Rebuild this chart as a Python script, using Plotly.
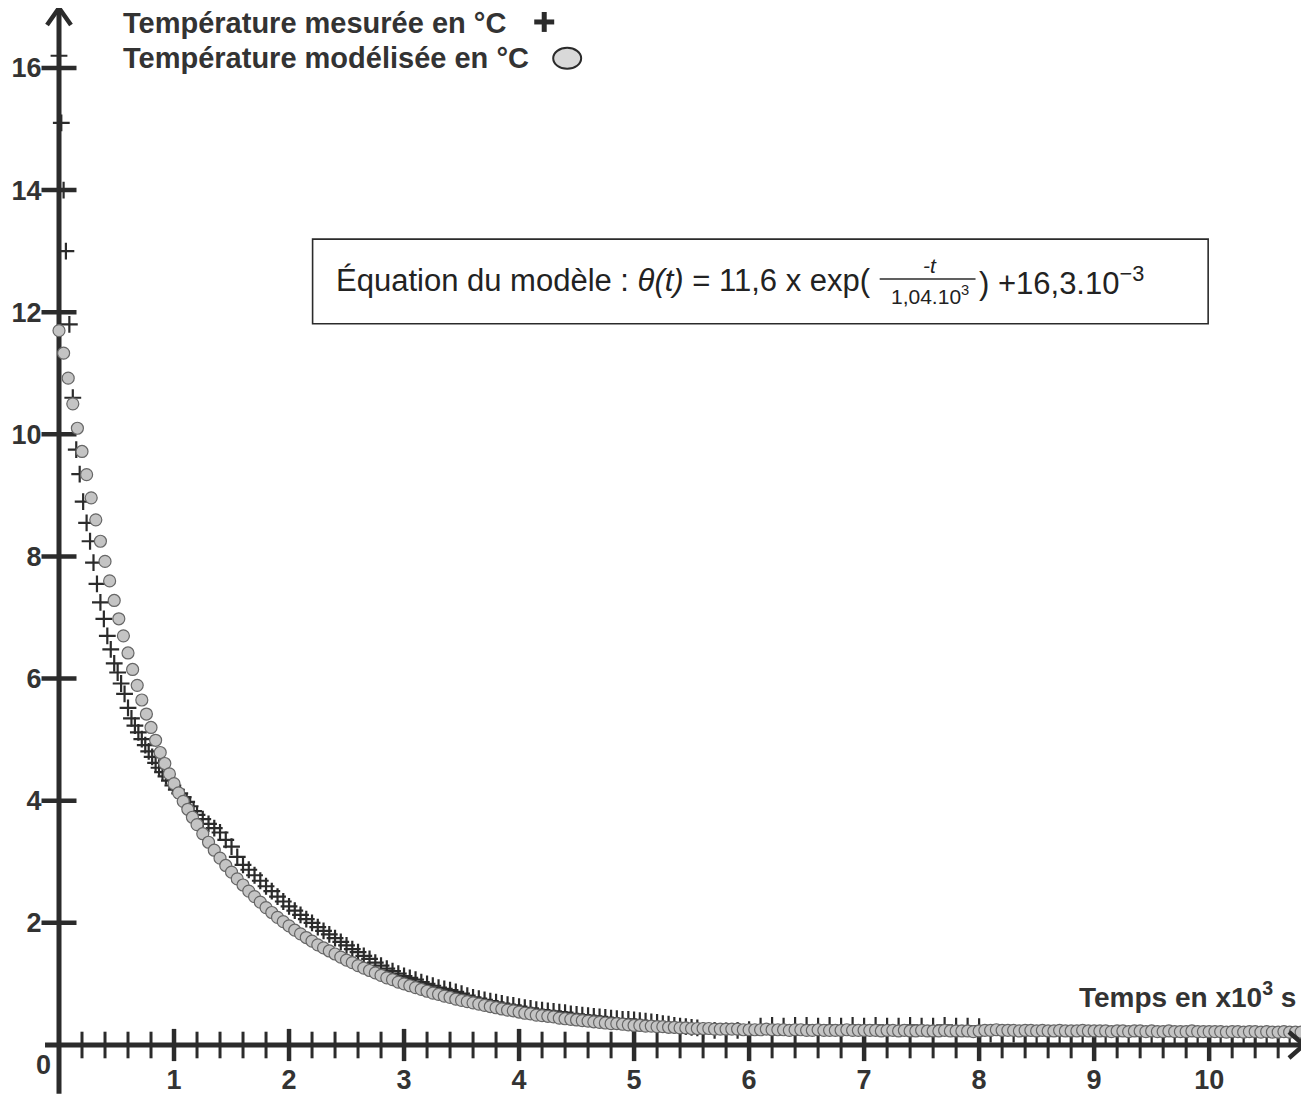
import plotly.graph_objects as go

# ---------------- data ----------------
# measured temperature (crosses), time in 10^3 s
T_MEAS = [0.00, 0.02, 0.04, 0.06, 0.09,
          0.12, 0.15, 0.18, 0.21, 0.24, 0.27, 0.30, 0.33, 0.36, 0.39,
          0.42, 0.45, 0.48, 0.51, 0.54, 0.57, 0.60, 0.63, 0.66, 0.69,
          0.72, 0.75, 0.78, 0.81, 0.84, 0.87, 0.90, 0.93, 0.96, 0.99,
          1.02, 1.05, 1.08, 1.11, 1.14, 1.17, 1.20,
          1.25, 1.30, 1.35, 1.40, 1.45, 1.50, 1.55, 1.60, 1.65, 1.70,
          1.75, 1.80, 1.85, 1.90, 1.95, 2.00, 2.05, 2.10, 2.15, 2.20,
          2.25, 2.30, 2.35, 2.40, 2.45, 2.50, 2.55, 2.60, 2.65, 2.70,
          2.75, 2.80, 2.85, 2.90, 2.95, 3.00, 3.05, 3.10, 3.15, 3.20,
          3.25, 3.30, 3.35, 3.40, 3.45, 3.50, 3.55, 3.60, 3.65, 3.70,
          3.75, 3.80, 3.85, 3.90, 3.95, 4.00, 4.05, 4.10, 4.15, 4.20,
          4.25, 4.30, 4.35, 4.40, 4.45, 4.50, 4.55, 4.60, 4.65, 4.70,
          4.75, 4.80, 4.85, 4.90, 4.95, 5.00, 5.05, 5.10, 5.15, 5.20,
          5.25, 5.30, 5.35, 5.40, 5.45, 5.50, 5.55,
          5.6, 5.7, 5.8, 5.9, 6.0, 6.1, 6.2, 6.3, 6.4, 6.5,
          6.6, 6.7, 6.8, 6.9, 7.0, 7.1, 7.2, 7.3, 7.4, 7.5,
          7.6, 7.7, 7.8, 7.9, 8.0, 8.1, 8.2, 8.3, 8.4, 8.5,
          8.6, 8.7, 8.8, 8.9, 9.0, 9.1, 9.2, 9.3, 9.4, 9.5,
          9.6, 9.7, 9.8, 9.9, 10.0, 10.1, 10.2, 10.3, 10.4, 10.5,
          10.6, 10.7, 10.8]
THETA_MEAS = [16.2, 15.1, 14.0, 13.0, 11.8,
              10.60, 9.75, 9.35, 8.90, 8.55, 8.25, 7.90, 7.55, 7.25, 6.98,
              6.70, 6.48, 6.25, 6.10, 5.92, 5.75, 5.52, 5.35, 5.23, 5.12,
              5.01, 4.91, 4.81, 4.72, 4.62, 4.54, 4.47, 4.40, 4.33, 4.25,
              4.18, 4.12, 4.06, 3.98, 3.91, 3.83, 3.77,
              3.70, 3.62, 3.55, 3.48, 3.36, 3.25, 3.08, 2.95, 2.87, 2.78,
              2.69, 2.60, 2.52, 2.43, 2.35, 2.27, 2.20, 2.13, 2.06, 2.00,
              1.93, 1.87, 1.81, 1.75, 1.69, 1.63, 1.57, 1.52, 1.46, 1.41,
              1.35, 1.30, 1.25, 1.21, 1.17, 1.13, 1.10, 1.07, 1.03, 1.00,
              0.97, 0.94, 0.92, 0.90, 0.87, 0.84, 0.81, 0.78, 0.76, 0.74,
              0.72, 0.70, 0.68, 0.66, 0.65, 0.63, 0.61, 0.60, 0.58, 0.57,
              0.56, 0.55, 0.54, 0.53, 0.51, 0.50, 0.49, 0.48, 0.47, 0.46,
              0.45, 0.44, 0.43, 0.42, 0.42, 0.41, 0.40, 0.39, 0.38, 0.37,
              0.35, 0.34, 0.32, 0.31, 0.30, 0.29, 0.28,
              0.24, 0.24, 0.23, 0.24, 0.25, 0.31, 0.32, 0.31, 0.32, 0.32,
              0.31, 0.32, 0.31, 0.32, 0.31, 0.32, 0.31, 0.31, 0.32, 0.31,
              0.31, 0.32, 0.31, 0.31, 0.30, 0.18, 0.17, 0.18, 0.16, 0.17,
              0.17, 0.16, 0.17, 0.16, 0.17, 0.16, 0.16, 0.17, 0.16, 0.16,
              0.15, 0.16, 0.16, 0.15, 0.16, 0.15, 0.15, 0.16, 0.15, 0.15,
              0.15, 0.15, 0.14]

# modelled temperature (grey circles)
T_MOD = [0.00, 0.04, 0.08, 0.12, 0.16, 0.20, 0.24, 0.28, 0.32, 0.36,
         0.40, 0.44, 0.48, 0.52, 0.56, 0.60, 0.64, 0.68, 0.72, 0.76,
         0.80, 0.84, 0.88, 0.92, 0.96, 1.00, 1.04, 1.08, 1.12, 1.16, 1.20,
         1.25, 1.30, 1.35, 1.40, 1.45, 1.50, 1.55, 1.60, 1.65, 1.70,
         1.75, 1.80, 1.85, 1.90, 1.95, 2.00,
         2.05, 2.10, 2.15, 2.20, 2.25, 2.30, 2.35, 2.40, 2.45, 2.50,
         2.55, 2.60, 2.65, 2.70, 2.75, 2.80, 2.85, 2.90, 2.95, 3.00,
         3.05, 3.10, 3.15, 3.20, 3.25, 3.30, 3.35, 3.40, 3.45, 3.50,
         3.55, 3.60, 3.65, 3.70, 3.75, 3.80, 3.85, 3.90, 3.95, 4.00,
         4.05, 4.10, 4.15, 4.20, 4.25, 4.30, 4.35, 4.40, 4.45, 4.50,
         4.55, 4.60, 4.65, 4.70, 4.75, 4.80, 4.85, 4.90, 4.95, 5.00,
         5.05, 5.10, 5.15, 5.20, 5.25, 5.30, 5.35, 5.40, 5.45, 5.50,
         5.55, 5.60, 5.65, 5.70, 5.75, 5.80, 5.85, 5.90, 5.95, 6.00,
         6.05, 6.10, 6.15, 6.20, 6.25, 6.30, 6.35, 6.40, 6.45, 6.50,
         6.55, 6.60, 6.65, 6.70, 6.75, 6.80, 6.85, 6.90, 6.95, 7.00,
         7.05, 7.10, 7.15, 7.20, 7.25, 7.30, 7.35, 7.40, 7.45, 7.50,
         7.55, 7.60, 7.65, 7.70, 7.75, 7.80, 7.85, 7.90, 7.95, 8.00,
         8.05, 8.10, 8.15, 8.20, 8.25, 8.30, 8.35, 8.40, 8.45, 8.50,
         8.55, 8.60, 8.65, 8.70, 8.75, 8.80, 8.85, 8.90, 8.95, 9.00,
         9.05, 9.10, 9.15, 9.20, 9.25, 9.30, 9.35, 9.40, 9.45, 9.50,
         9.55, 9.60, 9.65, 9.70, 9.75, 9.80, 9.85, 9.90, 9.95, 10.00,
         10.05, 10.10, 10.15, 10.20, 10.25, 10.30, 10.35, 10.40, 10.45, 10.50,
         10.55, 10.60, 10.65, 10.70, 10.75, 10.80]
THETA_MOD = [11.70, 11.33, 10.92, 10.50, 10.10, 9.72, 9.34, 8.96, 8.60, 8.25,
             7.92, 7.60, 7.28, 6.98, 6.70, 6.42, 6.15, 5.89, 5.65, 5.42,
             5.20, 4.99, 4.79, 4.61, 4.44, 4.28, 4.13, 3.99, 3.86, 3.73, 3.61,
             3.46, 3.32, 3.19, 3.06, 2.94, 2.83, 2.72, 2.62, 2.52, 2.43,
             2.34, 2.25, 2.17, 2.09, 2.02, 1.95,
             1.88, 1.82, 1.76, 1.70, 1.64, 1.59, 1.54, 1.49, 1.44, 1.39,
             1.35, 1.30, 1.26, 1.22, 1.18, 1.14, 1.10, 1.07, 1.03, 1.00,
             0.97, 0.94, 0.91, 0.88, 0.85, 0.83, 0.80, 0.78, 0.75, 0.73,
             0.71, 0.69, 0.67, 0.65, 0.63, 0.61, 0.59, 0.57, 0.56, 0.54,
             0.52, 0.51, 0.49, 0.48, 0.47, 0.46, 0.44, 0.43, 0.42, 0.41,
             0.40, 0.39, 0.38, 0.37, 0.36, 0.35, 0.35, 0.34, 0.33, 0.32,
             0.32, 0.31, 0.31, 0.30, 0.30, 0.29, 0.29, 0.28, 0.28, 0.27,
             0.27, 0.27, 0.27, 0.26, 0.26, 0.26, 0.26, 0.26, 0.25, 0.25,
             0.25, 0.25, 0.26, 0.25, 0.25, 0.25, 0.24, 0.25, 0.25, 0.24,
             0.24, 0.25, 0.24, 0.24, 0.24, 0.24, 0.25, 0.24, 0.24, 0.24,
             0.24, 0.24, 0.23, 0.24, 0.24, 0.23, 0.24, 0.23, 0.23, 0.24,
             0.23, 0.23, 0.23, 0.24, 0.23, 0.23, 0.23, 0.23, 0.22, 0.23,
             0.24, 0.24, 0.25, 0.24, 0.24, 0.24, 0.23, 0.24, 0.24, 0.23,
             0.24, 0.23, 0.23, 0.24, 0.23, 0.23, 0.23, 0.24, 0.23, 0.23,
             0.23, 0.23, 0.22, 0.23, 0.23, 0.22, 0.23, 0.23, 0.22, 0.23,
             0.22, 0.22, 0.23, 0.22, 0.22, 0.22, 0.23, 0.22, 0.22, 0.22,
             0.22, 0.22, 0.21, 0.22, 0.22, 0.21, 0.22, 0.22, 0.21, 0.22,
             0.21, 0.21, 0.22, 0.21, 0.21, 0.21]

X_MAJOR = [1, 2, 3, 4, 5, 6, 7, 8, 9, 10]
X_LABELS = ["1", "2", "3", "4", "5", "6", "7", "8", "9", "10"]
X_MINOR = [0.2, 0.4, 0.6, 0.8, 1.2, 1.4, 1.6, 1.8, 2.2, 2.4, 2.6, 2.8, 3.2, 3.4, 3.6, 3.8,
           4.2, 4.4, 4.6, 4.8, 5.2, 5.4, 5.6, 5.8, 6.2, 6.4, 6.6, 6.8, 7.2, 7.4, 7.6, 7.8,
           8.2, 8.4, 8.6, 8.8, 9.2, 9.4, 9.6, 9.8, 10.2, 10.4, 10.6]
Y_MAJOR = [2, 4, 6, 8, 10, 12, 14, 16]
Y_LABELS = ["2", "4", "6", "8", "10", "12", "14", "16"]

LEGEND_MEAS = "Température mesurée en °C"
LEGEND_MOD = "Température modélisée en °C"
X_TITLE = "Temps en x10<sup>3</sup> s"
EQ_LEFT = "Équation du modèle : <i>θ(t)</i> = 11,6 x exp("
EQ_NUM = "<i>-t</i>"
EQ_DEN = "1,04.10<sup>3</sup>"
EQ_RIGHT = ") +16,3.10<sup>−3</sup>"

# ---------------- layout geometry (page pixels; the page has an 8px body margin) ----------------
OFF = 8
W, H = 1301, 1091
L, R, T, B = 49, 4, 4, 50
PW, PH = W - L - R, H - T - B
XMAX = PW / 115.2
YMAX = PH / 61.3
DARK = "#2b2b2b"
FONT = "Liberation Sans"


def px(xp):
    return (xp - OFF - L) / PW


def py(yp):
    return (H - B - (yp - OFF)) / PH


fig = go.Figure()

# tick marks crossing the axes (drawn at the tick values through the axes' scales)
fig.add_trace(go.Scatter(
    x=X_MINOR, y=[0] * len(X_MINOR), mode="markers", cliponaxis=False,
    marker=dict(symbol="line-ns", size=19, line=dict(width=3, color=DARK)),
    hoverinfo="skip", showlegend=False))
fig.add_trace(go.Scatter(
    x=X_MAJOR, y=[0] * len(X_MAJOR), mode="markers", cliponaxis=False,
    marker=dict(symbol="line-ns", size=23, line=dict(width=4.5, color=DARK)),
    hoverinfo="skip", showlegend=False))
fig.add_trace(go.Scatter(
    x=[0] * len(Y_MAJOR), y=Y_MAJOR, mode="markers", cliponaxis=False,
    marker=dict(symbol="line-ew", size=25, line=dict(width=4.5, color=DARK)),
    hoverinfo="skip", showlegend=False))

fig.add_trace(go.Scatter(
    x=T_MEAS, y=THETA_MEAS, mode="markers", name=LEGEND_MEAS, cliponaxis=False,
    marker=dict(symbol="cross-thin", size=12, line=dict(width=2.2, color=DARK)),
    hoverinfo="skip", showlegend=False))
fig.add_trace(go.Scatter(
    x=T_MOD, y=THETA_MOD, mode="markers", name=LEGEND_MOD, cliponaxis=False,
    marker=dict(symbol="circle", size=12, color="#c4c4c4",
                line=dict(width=1.2, color="#666666")),
    hoverinfo="skip", showlegend=False))

tickfont = dict(family=FONT, size=27, color="#333333", weight="bold")

fig.update_layout(
    width=W, height=H, margin=dict(l=L, r=R, t=T, b=B),
    paper_bgcolor="white", plot_bgcolor="white",
    xaxis=dict(range=[0, XMAX], showgrid=False, zeroline=False, showline=False,
               tickvals=X_MAJOR, ticktext=X_LABELS, ticks="outside", ticklen=11,
               tickwidth=1, tickcolor="rgba(0,0,0,0)", tickfont=tickfont),
    yaxis=dict(range=[0, YMAX], showgrid=False, zeroline=False, showline=False,
               tickvals=Y_MAJOR, ticktext=Y_LABELS, ticks="outside", ticklen=11,
               tickwidth=1, tickcolor="rgba(0,0,0,0)", tickfont=tickfont),
)

shapes = []
# axis lines (extending slightly past the origin, as in the picture)
shapes.append(dict(type="line", xref="paper", yref="paper", x0=px(57), x1=px(57),
                   y0=py(1098), y1=py(9), line=dict(color=DARK, width=5), layer="below"))
shapes.append(dict(type="line", xref="paper", yref="paper", x0=px(43), x1=px(1302),
                   y0=py(1049), y1=py(1049), line=dict(color=DARK, width=5), layer="below"))
# arrow heads
shapes.append(dict(type="path", xref="paper", yref="paper",
                   path=f"M {px(45)} {py(25)} L {px(57)} {py(8)} L {px(69)} {py(25)}",
                   line=dict(color=DARK, width=4.5)))
shapes.append(dict(type="path", xref="paper", yref="paper",
                   path=f"M {px(1289)} {py(1036)} L {px(1304)} {py(1049)} L {px(1289)} {py(1062)}",
                   line=dict(color=DARK, width=4.5)))
# legend symbols
shapes.append(dict(type="line", xref="paper", yref="paper", x0=px(533), x1=px(553),
                   y0=py(22), y1=py(22), line=dict(color=DARK, width=5)))
shapes.append(dict(type="line", xref="paper", yref="paper", x0=px(543), x1=px(543),
                   y0=py(12), y1=py(32), line=dict(color=DARK, width=5)))
shapes.append(dict(type="circle", xref="paper", yref="paper", x0=px(552), x1=px(580),
                   y0=py(69), y1=py(48), fillcolor="#d9d9d9",
                   line=dict(color=DARK, width=2)))
# equation box
shapes.append(dict(type="rect", xref="paper", yref="paper", x0=px(311), x1=px(1208),
                   y0=py(325), y1=py(240), line=dict(color=DARK, width=1.6)))
# fraction bar
shapes.append(dict(type="line", xref="paper", yref="paper", x0=px(879), x1=px(975),
                   y0=py(280), y1=py(280), line=dict(color=DARK, width=1.5)))

annotations = []
bold = dict(family=FONT, size=29, color="#333333", weight="bold")
annotations.append(dict(xref="paper", yref="paper", x=px(119), y=py(23), text=LEGEND_MEAS,
                        xanchor="left", yanchor="middle", showarrow=False, font=bold))
annotations.append(dict(xref="paper", yref="paper", x=px(119), y=py(58), text=LEGEND_MOD,
                        xanchor="left", yanchor="middle", showarrow=False, font=bold))
annotations.append(dict(xref="paper", yref="paper", x=px(1298), y=py(999), text=X_TITLE,
                        xanchor="right", yanchor="middle", showarrow=False,
                        font=dict(family=FONT, size=28, color="#333333", weight="bold")))
annotations.append(dict(xref="paper", yref="paper", x=px(41), y=py(1069), text="0",
                        xanchor="center", yanchor="middle", showarrow=False, font=tickfont))
eqfont = dict(family=FONT, size=31, color="#222222")
annotations.append(dict(xref="paper", yref="paper", x=px(332), y=py(282), text=EQ_LEFT,
                        xanchor="left", yanchor="middle", showarrow=False, font=eqfont))
annotations.append(dict(xref="paper", yref="paper", x=px(929), y=py(266), text=EQ_NUM,
                        xanchor="center", yanchor="middle", showarrow=False,
                        font=dict(family=FONT, size=21, color="#222222")))
annotations.append(dict(xref="paper", yref="paper", x=px(929), y=py(296), text=EQ_DEN,
                        xanchor="center", yanchor="middle", showarrow=False,
                        font=dict(family=FONT, size=21, color="#222222")))
annotations.append(dict(xref="paper", yref="paper", x=px(976), y=py(282), text=EQ_RIGHT,
                        xanchor="left", yanchor="middle", showarrow=False, font=eqfont))

fig.update_layout(shapes=shapes, annotations=annotations)

fig.write_html("out.html")
